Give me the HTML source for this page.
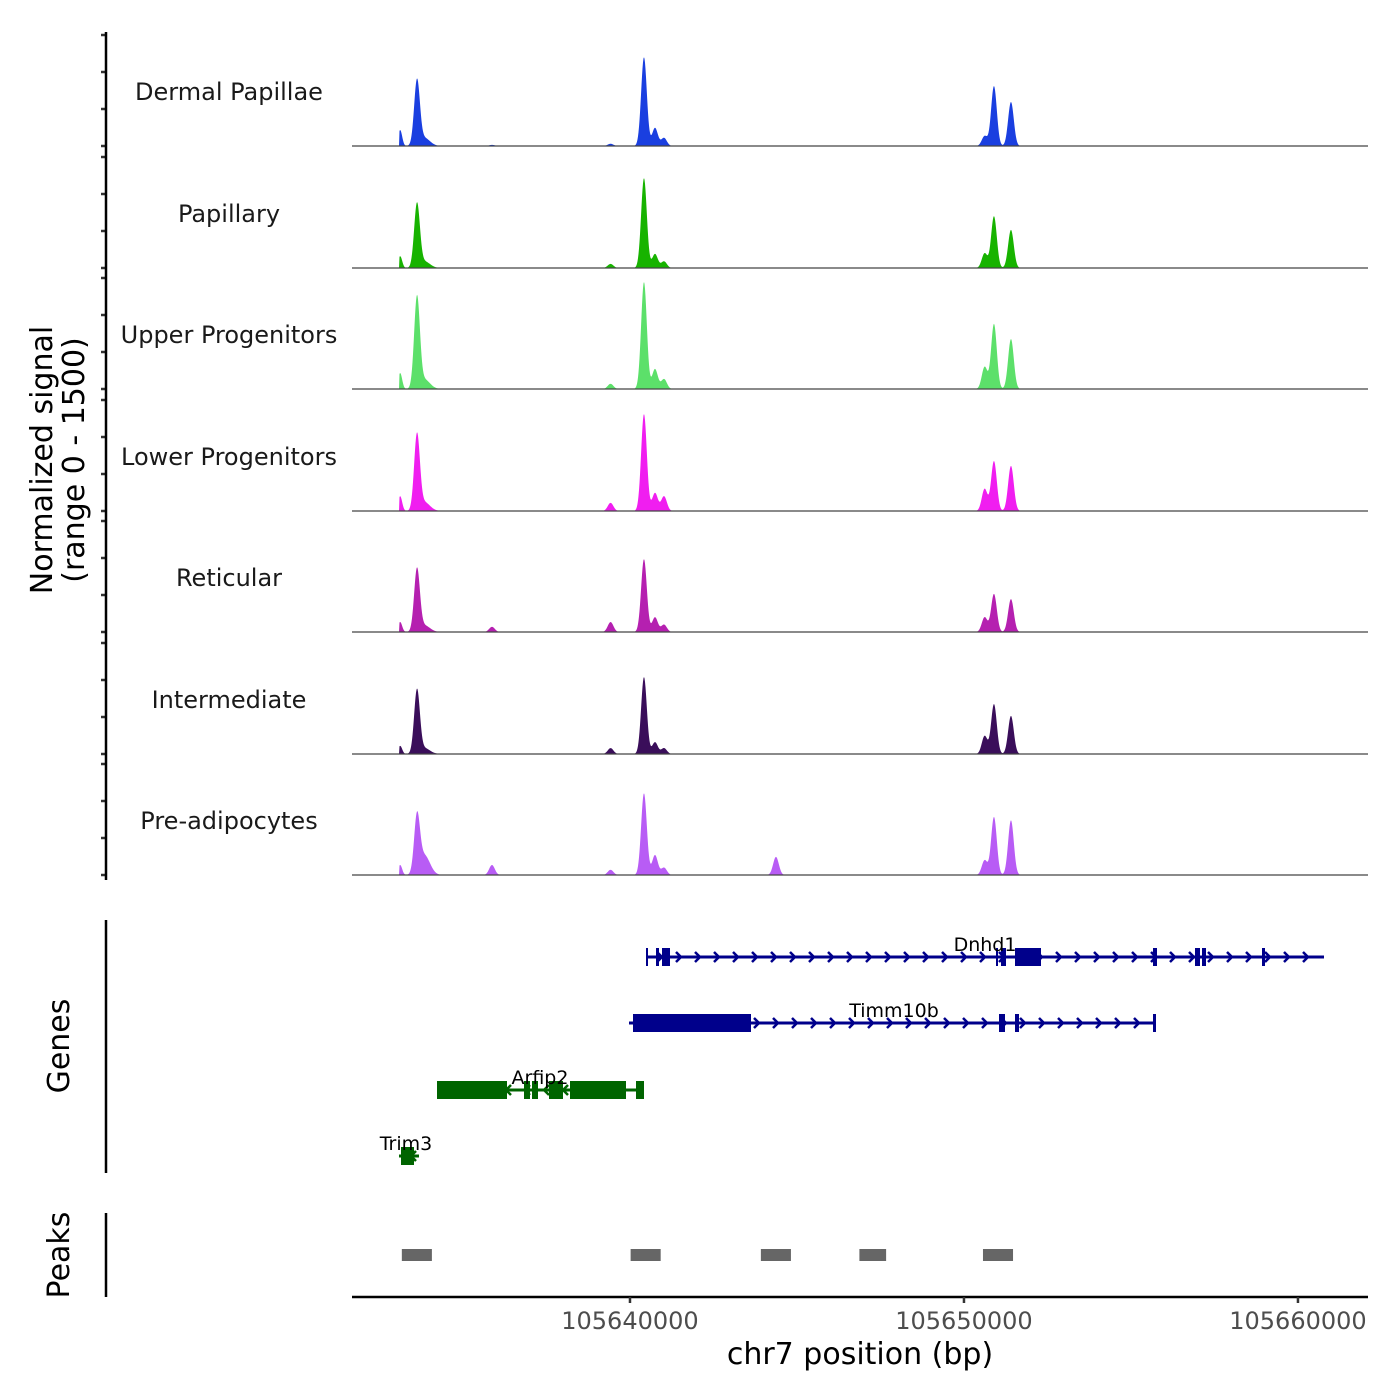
<!DOCTYPE html>
<html><head><meta charset="utf-8"><style>
body{margin:0;background:#fff}
svg{display:block;font-family:"DejaVu Sans","Liberation Sans",sans-serif}
</style></head><body>
<svg id="chart" width="1400" height="1400" viewBox="0 0 1400 1400" xmlns="http://www.w3.org/2000/svg">
<g id="tracks"></g>
<g id="genes"></g>
<g id="peaks"></g>
<g id="axes"></g>
</svg>
<script>
// ---- data ----
const trackNames = ["Dermal Papillae","Papillary","Upper Progenitors","Lower Progenitors","Reticular","Intermediate","Pre-adipocytes"];
const trackColors = ["#1a3fe0","#17b300","#5ce06a","#f01ef0","#b520b0","#3a0e5a","#b85cf5"];
const peakPositions = [105633119,105633623,105633839,105639419,105640419,105640749,105641019,105644371,105650619,105650898,105651407,105635868];
const signalT1 = [215,865,110,30,1200,245,110,0,135,810,595,15];
const signalT2 = [160,850,90,55,1215,190,90,0,200,700,515,0];
const signalT3 = [215,1215,130,70,1445,270,135,0,300,880,675,0];
const signalT4 = [200,1010,120,110,1310,245,200,0,300,675,610,0];
const signalT5 = [135,835,90,135,985,200,100,0,200,515,445,70];
const signalT6 = [110,850,80,80,1040,160,80,0,245,675,515,0];
const signalT7 = [135,740,270,70,1105,270,100,245,200,785,740,135];
const signals = [signalT1,signalT2,signalT3,signalT4,signalT5,signalT6,signalT7];
const xTicks = [105640000,105650000,105660000];
const peakRegions = [[105633169,105634069],[105640019,105640919],[105643919,105644819],[105646869,105647669],[105650569,105651469]];

const NS="http://www.w3.org/2000/svg";
function el(tag,attrs,parent){const e=document.createElementNS(NS,tag);for(const k in attrs)e.setAttribute(k,attrs[k]);parent.appendChild(e);return e;}
const X0=352,X1=1368,BP0=105631677,BP1=105662097;
const xs=bp=>X0+(bp-BP0)/(BP1-BP0)*(X1-X0);
const baselines=[146,268,389,511,632,754,875];
const ys=(v,b)=>b-v/1500*111;

const tracks=document.getElementById('tracks');
const axes=document.getElementById('axes');
trackNames.forEach((name,i)=>{
  const b=baselines[i];const sig=signals[i];
  let d=`M399,${b}`;
  for(let px=399.5;px<=1020;px+=0.5){
    const bp=BP0+(px-X0)/(X1-X0)*(BP1-BP0);
    let v=0;
    peakPositions.forEach((p,k)=>{const s=(k===2?170:(k===0?60:85));const z=(bp-p)/s;v+=sig[k]*Math.exp(-z*z/2);});
    d+=` L${px},${ys(Math.min(v,1500),b).toFixed(2)}`;
  }
  d+=` L1020,${b} Z`;
  const area=el('path',{d:d,fill:trackColors[i]},tracks);
  
  
  const base=el('line',{x1:X0,x2:X1,y1:b,y2:b,stroke:'#444','stroke-width':1.2},tracks);
  
  
  const lab=el('text',{x:229,y:b-46,'text-anchor':'middle','font-size':24,fill:'#1a1a1a'},tracks);
  lab.textContent=name;
  
  
  [0,500,1000,1500].forEach(t=>{
    const tk=el('line',{x1:101,x2:106,y1:ys(t,b),y2:ys(t,b),stroke:'#333','stroke-width':2.5},axes);
    
    
  });
});
el('line',{x1:106,x2:106,y1:32,y2:880,stroke:'#000','stroke-width':2.5,},axes);

// genes
const genes=document.getElementById('genes');
const blue="#00008b",green="#006400";
function gene(name,y,s,e,exons,color,dir,lx,ly){
  const g=el('g',{},genes);
  el('line',{x1:s,x2:e,y1:y,y2:y,stroke:color,'stroke-width':3},g);
  for(let x=s+14;x<e-4;x+=19){
    const p=dir>0?`M${x-3},${y-5} L${x+2},${y} L${x-3},${y+5}`:`M${x+3},${y-5} L${x-2},${y} L${x+3},${y+5}`;
    el('path',{d:p,stroke:color,'stroke-width':2.5,fill:'none'},g);
  }
  exons.forEach(ex=>el('rect',{x:ex[0],y:y-9,width:ex[1]-ex[0],height:18,fill:color},g));
  const t=el('text',{x:lx,y:ly,'text-anchor':'middle','font-size':19,fill:'#000'},g);t.textContent=name;
}
gene("Dnhd1",957,646,1324,[[646,648],[656,659],[662,670],[996,998],[1001,1006],[1015,1041],[1153,1157],[1195,1200],[1202,1206],[1262,1265]],blue,1,985,951);
gene("Timm10b",1023,629,1155,[[633,751],[999,1005],[1015,1019],[1153,1156]],blue,1,894,1017);
gene("Arfip2",1090,437,644,[[437,507],[524,530],[532,538],[549,563],[570,626],[636,644]],green,-1,540,1084);
gene("Trim3",1156,399,419,[[401,414]],green,-1,406,1150);
el('line',{x1:106,x2:106,y1:920,y2:1173,stroke:'#000','stroke-width':2.5,},genes);

// peaks
const peaks=document.getElementById('peaks');
peakRegions.forEach(r=>{
  const rc=el('rect',{x:xs(r[0]),y:1249,width:xs(r[1])-xs(r[0]),height:12,fill:'#666'},peaks);
  
  
});
el('line',{x1:106,x2:106,y1:1213,y2:1297,stroke:'#000','stroke-width':2.5,},peaks);

// x axis
el('line',{x1:X0,x2:X1,y1:1297,y2:1297,stroke:'#000','stroke-width':2.5,},axes);
xTicks.forEach(t=>{
  const tk=el('line',{x1:xs(t),x2:xs(t),y1:1297,y2:1303,stroke:'#333','stroke-width':2.5},axes);
  
  
  const tl=el('text',{x:xs(t),y:1329,'text-anchor':'middle','font-size':24,fill:'#4d4d4d'},axes);
  tl.textContent=t;
  
  
});
const xt=el('text',{x:860,y:1364,'text-anchor':'middle','font-size':30,fill:'#000',},axes);xt.textContent="chr7 position (bp)";
const yt=el('text',{transform:'translate(52,460) rotate(-90)','text-anchor':'middle','font-size':30,fill:'#000',},axes);yt.textContent="Normalized signal";
const yt2=el('text',{transform:'translate(84,460) rotate(-90)','text-anchor':'middle','font-size':30,fill:'#000',},axes);yt2.textContent="(range 0 - 1500)";
const gt=el('text',{transform:'translate(69,1046) rotate(-90)','text-anchor':'middle','font-size':30,fill:'#000',},axes);gt.textContent="Genes";
const pt=el('text',{transform:'translate(69,1255) rotate(-90)','text-anchor':'middle','font-size':30,fill:'#000',},axes);pt.textContent="Peaks";
</script>
</body></html>
